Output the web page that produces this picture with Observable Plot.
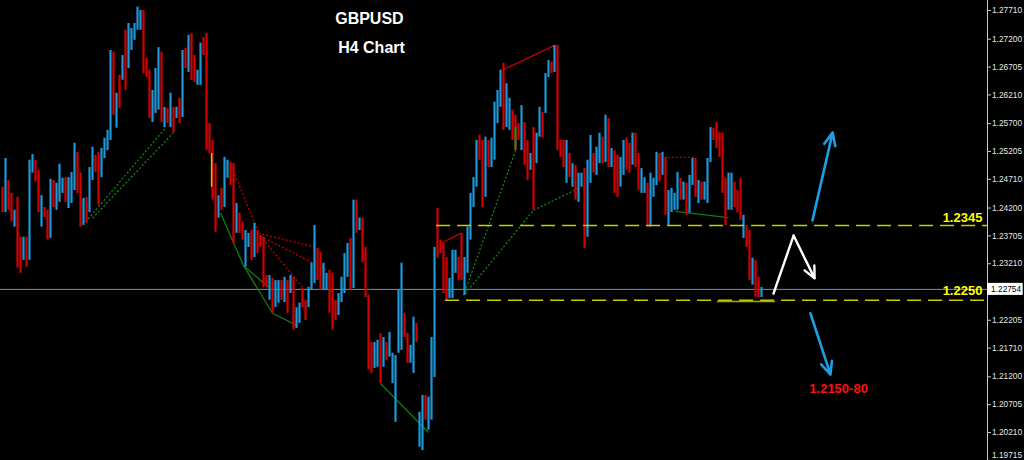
<!DOCTYPE html>
<html>
<head>
<meta charset="utf-8">
<script src="https://cdn.jsdelivr.net/npm/d3@7"></script>
<script src="https://cdn.jsdelivr.net/npm/@observablehq/plot@0.6"></script>
<style>
  html, body { margin: 0; padding: 0; background: #000; }
  #chart { width: 1024px; height: 460px; overflow: hidden; }
</style>
</head>
<body>
<div id="chart"></div>
<script>
// ---- DATA (prices in pips = price x 10000) ----
const highs = [
12457,12508,12469,12446,12416,12439,12368,12368,12368,12505,
12515,12505,12487,12442,12421,12416,12471,12469,12464,12498,
12473,12474,12474,12483,12535,12519,12482,12437,12439,12492,
12528,12514,12519,12526,12544,12558,12700,12697,12624,12656,
12691,12736,12748,12739,12748,12777,12771,12771,12686,12665,
12629,12668,12705,12697,12599,12597,12624,12599,12599,12615,
12700,12704,12727,12730,12691,12665,12713,12723,12730,12570,
12540,12499,12442,12455,12510,12505,12501,12499,12428,12411,
12395,12380,12375,12380,12393,12380,12371,12368,12300,12300,
12295,12291,12291,12291,12297,12291,12300,12297,12243,12251,
12277,12256,12279,12322,12389,12348,12341,12322,12304,12309,
12304,12256,12268,12297,12339,12357,12366,12434,12434,12402,
12402,12350,12265,12181,12181,12185,12197,12190,12181,12199,
12162,12158,12274,12322,12233,12197,12176,12226,12215,12057,
12087,12087,12084,12190,12350,12419,12363,12357,12332,12295,
12345,12345,12332,12375,12332,12386,12446,12474,12540,12549,
12540,12546,12540,12544,12608,12629,12665,12677,12641,12615,
12594,12585,12570,12602,12572,12540,12517,12563,12553,12599,
12590,12659,12682,12679,12709,12709,12540,12540,12540,12517,
12499,12496,12482,12482,12490,12505,12549,12517,12528,12553,
12546,12585,12579,12526,12522,12514,12510,12540,12544,12535,
12553,12553,12517,12490,12474,12464,12482,12473,12519,12517,
12519,12510,12451,12455,12446,12483,12473,12466,12464,12478,
12508,12508,12469,12466,12466,12508,12563,12562,12572,12554,
12553,12473,12482,12482,12466,12451,12473,12407,12389,12380,
12331,12327,12297,12279];
const lows = [
12412,12412,12416,12395,12386,12313,12304,12327,12315,12327,
12482,12466,12412,12386,12403,12363,12366,12421,12416,12430,
12446,12430,12419,12428,12451,12446,12386,12389,12393,12412,
12469,12483,12425,12474,12508,12522,12540,12585,12562,12597,
12647,12629,12668,12700,12718,12736,12736,12659,12652,12579,
12572,12588,12594,12572,12563,12570,12563,12554,12579,12570,
12581,12668,12661,12647,12643,12638,12638,12691,12522,12517,
12434,12377,12402,12416,12421,12473,12460,12357,12375,12375,
12363,12315,12350,12327,12332,12339,12350,12279,12279,12256,
12233,12243,12251,12256,12252,12233,12268,12203,12206,12215,
12243,12220,12243,12274,12286,12291,12274,12274,12274,12233,
12203,12220,12229,12252,12268,12297,12274,12277,12375,12380,
12323,12261,12132,12126,12135,12137,12108,12137,12149,12155,
12108,12039,12162,12167,12190,12144,12144,12126,12181,11995,
11989,12043,12025,12043,12119,12331,12339,12268,12256,12259,
12259,12304,12291,12291,12265,12304,12363,12421,12457,12505,
12421,12439,12492,12492,12505,12570,12599,12558,12563,12558,
12540,12522,12540,12522,12496,12469,12487,12416,12499,12546,
12544,12588,12652,12659,12661,12522,12510,12492,12464,12474,
12457,12434,12430,12457,12348,12368,12464,12482,12478,12499,
12499,12501,12492,12492,12446,12439,12457,12478,12487,12482,
12496,12492,12451,12446,12446,12386,12386,12439,12460,12466,
12478,12407,12389,12412,12416,12416,12434,12434,12407,12411,
12460,12439,12428,12434,12434,12428,12501,12540,12526,12510,
12446,12389,12416,12416,12421,12411,12398,12366,12350,12291,
12283,12261,12261,12261];
// u = bullish (blue), d = bearish (red)
const dirs = "dudduddudu" + "uddudduduu" + "uduuuddudu" + "udduuuudud" + "uduuuuuddd" +
             "uuudududud" + "ududduuddd" + "dduduuddud" + "duududdddu" + "duudududuu" +
             "dduuudduud" + "dduuuududu" + "dddduududu" + "uuuudduudu" + "uduuuddddu" +
             "uudduuuuud" + "duduuuuduu" + "dddudduduu" + "duududddud" + "uduuduuduu" +
             "dududduudd" + "udduuduuud" + "uduuuududu" + "ududuuuddd" + "dduudddudd" + "uddu";

const axisTicks = [1.27710, 1.27200, 1.26705, 1.26210, 1.25700, 1.25205, 1.24710, 1.24200,
                   1.23705, 1.23210, 1.22205, 1.21710, 1.21200, 1.20705, 1.20210];
const bottomTick = [1.19715];
const currentPrice = 1.22754;

// horizontal levels: start bar, price, label text, label price
const levels = [
  {x1: 144.7, y: 1.2389, label: "1.2345", ly: 1.2403},
  {x1: 147.7, y: 1.2256, label: "1.2250", ly: 1.2272}
];
const levelSolid = [{x1: 238.3, x2: 257.7, y: 1.2254}];

const greenDotted = [
  {x1: 27.7, y1: 1.2395, x2: 54.3, y2: 1.2562},
  {x1: 30.0, y1: 1.2402, x2: 57.0, y2: 1.2554},
  {x1: 153.7, y1: 1.2265, x2: 171.0, y2: 1.2522},
  {x1: 154.3, y1: 1.2268, x2: 177.0, y2: 1.2416},
  {x1: 177.0, y1: 1.2416, x2: 192.0, y2: 1.2455}
];
const redDotted = [
  {x1: 76.0, y1: 1.2499, x2: 85.3, y2: 1.2377},
  {x1: 85.3, y1: 1.2375, x2: 104.7, y2: 1.2350},
  {x1: 86.0, y1: 1.2370, x2: 108.3, y2: 1.2309},
  {x1: 86.0, y1: 1.2370, x2: 100.0, y2: 1.2279},
  {x1: 221.7, y1: 1.2510, x2: 231.0, y2: 1.2510}
];
const greenSolid = [
  {x1: 72.7, y1: 1.2411, x2: 80.3, y2: 1.2318},
  {x1: 80.3, y1: 1.2318, x2: 90.0, y2: 1.2233},
  {x1: 90.0, y1: 1.2233, x2: 98.3, y2: 1.2211},
  {x1: 80.3, y1: 1.2318, x2: 88.7, y2: 1.2279},
  {x1: 126.0, y1: 1.2108, x2: 142.0, y2: 1.2021},
  {x1: 224.3, y1: 1.2414, x2: 242.0, y2: 1.2403}
];
const redSolid = [
  {x1: 146.0, y1: 1.2357, x2: 152.7, y2: 1.2375},
  {x1: 167.0, y1: 1.2666, x2: 184.0, y2: 1.2709}
];
const greenBars = [{x: 171, y1: 1.2522, y2: 1.2563}];
const yellowBars = [{x: 69.7, y1: 1.2457, y2: 1.2517}];

const blueArrows = [
  {x1: 270.0, y1: 1.2398, x2: 276.7, y2: 1.2554},
  {x1: 269.3, y1: 1.2233, x2: 276.0, y2: 1.2124}
];
const whitePath = [{x: 257.0, y: 1.2268}, {x: 263.7, y: 1.2371}];
const whiteArrow = [{x1: 263.7, y1: 1.2371, x2: 270.7, y2: 1.2295}];

const titles = [
  {x: 122.3, y: 1.2757, text: "GBPUSD"},
  {x: 123.0, y: 1.2705, text: "H4 Chart"}
];
const target = [{x: 278.7, y: 1.2099, text: "1.2150-80"}];

// ---- BUILD ----
const candles = highs.map((h, i) => ({i, high: h / 1e4, low: lows[i] / 1e4, up: dirs[i] === "u"}));
const xDomain = [-0.6667, 328.3333];
const yDomain = [1.19713, 1.27888];
const boxHalf = 0.00107;

const chart = Plot.plot({
  width: 1024,
  height: 460,
  marginLeft: 0,
  marginRight: 37,
  marginTop: 0,
  marginBottom: 0,
  style: {background: "#000", color: "#ddd", fontFamily: "Liberation Sans, Arial, sans-serif"},
  x: {domain: xDomain, axis: null},
  y: {domain: yDomain, axis: null},
  marks: [
    // current price line
    Plot.ruleY([currentPrice], {x1: xDomain[0], x2: xDomain[1], stroke: "#7f91a6", strokeWidth: 1}),
    // indicator lines
    Plot.link(greenDotted, {x1: "x1", y1: "y1", x2: "x2", y2: "y2", stroke: "#0f8a12", strokeWidth: 1.3, strokeDasharray: "2,2"}),
    Plot.link(redDotted, {x1: "x1", y1: "y1", x2: "x2", y2: "y2", stroke: "#c00000", strokeWidth: 1.3, strokeDasharray: "2,2"}),
    Plot.link(greenSolid, {x1: "x1", y1: "y1", x2: "x2", y2: "y2", stroke: "#137a14", strokeWidth: 1.3}),
    Plot.link(redSolid, {x1: "x1", y1: "y1", x2: "x2", y2: "y2", stroke: "#c00000", strokeWidth: 1.3}),
    // candles
    Plot.ruleX(candles, {x: "i", y1: "low", y2: "high", stroke: d => d.up ? "#1c98d8" : "#d40000", strokeWidth: 2.2}),
    Plot.ruleX(greenBars, {x: "x", y1: "y1", y2: "y2", stroke: "#169a16", strokeWidth: 2}),
    Plot.ruleX(yellowBars, {x: "x", y1: "y1", y2: "y2", stroke: "#c8c800", strokeWidth: 1.5}),
    // yellow levels
    Plot.ruleY(levels, {y: "y", x1: "x1", x2: xDomain[1], stroke: "#cccc00", strokeWidth: 1.6, strokeDasharray: "14,7"}),
    Plot.ruleY(levelSolid, {y: "y", x1: "x1", x2: "x2", stroke: "#a8a800", strokeWidth: 1.4}),
    Plot.text(levels, {x: xDomain[1] - 1.7, y: "ly", text: "label", textAnchor: "end", fill: "#ffff00", fontSize: 13, fontWeight: "bold"}),
    // annotation arrows
    Plot.arrow(blueArrows, {x1: "x1", y1: "y1", x2: "x2", y2: "y2", stroke: "#1e9fe3", strokeWidth: 2.6, headAngle: 48, headLength: 8}),
    Plot.line(whitePath, {x: "x", y: "y", stroke: "#ffffff", strokeWidth: 2.4}),
    Plot.arrow(whiteArrow, {x1: "x1", y1: "y1", x2: "x2", y2: "y2", stroke: "#ffffff", strokeWidth: 2.4, headAngle: 50, headLength: 8}),
    Plot.text(target, {x: "x", y: "y", text: "text", fill: "#ff1010", fontSize: 13, fontWeight: "bold"}),
    Plot.text(titles, {x: "x", y: "y", text: "text", fill: "#ffffff", fontSize: 16, fontWeight: "bold"}),
    // right price axis
    Plot.ruleX([xDomain[1]], {stroke: "#c8c8c8", strokeWidth: 1}),
    Plot.axisY({anchor: "right", ticks: axisTicks, tickFormat: d => d.toFixed(5), tickSize: 3, tickPadding: 1.5, fill: "#e6e6e6", stroke: "#c8c8c8", fontSize: 8.3, label: null}),
    Plot.link(bottomTick, {x1: xDomain[1], x2: xDomain[1] + 1, y1: d => d, y2: d => d, stroke: "#c8c8c8"}),
    Plot.text(bottomTick, {x: xDomain[1] + 1.5, y: d => d, dy: -2, text: d => d.toFixed(5), textAnchor: "start", lineAnchor: "bottom", fill: "#e6e6e6", fontSize: 8.3}),
    Plot.rect([currentPrice], {x1: xDomain[1], x2: xDomain[1] + 11.9, y1: d => d - boxHalf, y2: d => d + boxHalf, fill: "#ffffff"}),
    Plot.text([currentPrice], {x: xDomain[1] + 1.2, y: d => d, text: d => d.toFixed(5), textAnchor: "start", fill: "#000000", fontSize: 8.3})
  ]
});
document.getElementById("chart").appendChild(chart);
</script>
</body>
</html>
